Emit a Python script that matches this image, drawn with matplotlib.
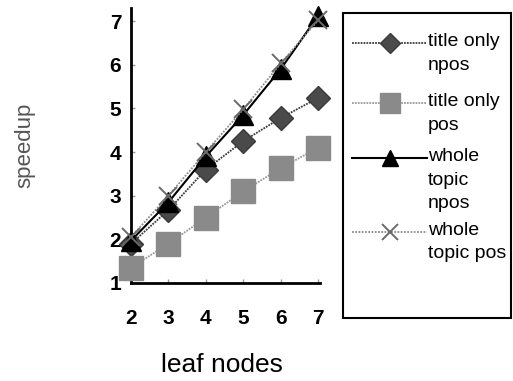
import matplotlib
matplotlib.use("Agg")
import matplotlib.pyplot as plt
from matplotlib.lines import Line2D
from matplotlib.patches import Rectangle

# data
leaf_nodes = [2, 3, 4, 5, 6, 7]
title_npos = [1.9, 2.67, 3.6, 4.25, 4.78, 5.24]
title_pos = [1.35, 1.9, 2.5, 3.1, 3.63, 4.1]
whole_npos = [1.97, 2.85, 3.9, 4.85, 5.9, 7.12]
whole_pos = [2.05, 3.0, 4.0, 4.98, 6.03, 7.02]

labels = ["title only\nnpos", "title only\npos", "whole\ntopic\nnpos", "whole\ntopic pos"]
series = [title_npos, title_pos, whole_npos, whole_pos]
styles = [
    dict(color="#3a3a3a", ls=(0, (1, 0.6)), lw=1.3, marker="D", ms=12, mfc="#4a4a4a", mec="#3a3a3a"),
    dict(color="#9a9a9a", ls=(0, (1, 0.6)), lw=1.3, marker="s", ms=17, mfc="#8a8a8a", mec="#8a8a8a"),
    dict(color="#000000", ls="-", lw=1.5, marker="^", ms=14, mfc="#000000", mec="#000000"),
    dict(color="#8c8c8c", ls=(0, (1, 0.8)), lw=1.3, marker="x", ms=13, mew=1.4, mfc="none", mec="#6a6a6a"),
]

W, H = 513, 381
fig = plt.figure(figsize=(W / 100, H / 100), dpi=100)

def fx(px):
    return px / W

def fy(py):
    return 1 - py / H

ax = fig.add_axes([fx(131), fy(283), fx(320) - fx(131), fy(8) - fy(283)])

for vals, st in zip(series, styles):
    ax.plot(leaf_nodes, vals, clip_on=False, zorder=3, **st)

ax.set_xlim(2, 7.05)
ax.set_ylim(1, 7.3)
ax.set_xticks(leaf_nodes)
ax.set_yticks(range(1, 8))
for s in ["top", "right"]:
    ax.spines[s].set_visible(False)
for s in ["left", "bottom"]:
    ax.spines[s].set_linewidth(2)
ax.tick_params(direction="in", length=3, width=1, colors="#999999",
               labelcolor="black", labelsize=15)
ax.tick_params(axis="x", pad=19)
ax.tick_params(axis="y", pad=7)
for lab in ax.get_xticklabels() + ax.get_yticklabels():
    lab.set_fontweight("bold")
    lab.set_family("Liberation Sans")

fig.text(fx(222), fy(365), "leaf nodes", ha="center", va="center",
         fontsize=19, family="Liberation Sans")
fig.text(fx(25), fy(145), "speedup", ha="center", va="center", rotation=90,
         fontsize=16, color="#555555", family="Liberation Sans")

# legend drawn by hand so the marker sits on the first text line
fig.add_artist(Rectangle((fx(343), fy(318)), fx(511) - fx(343), fy(13) - fy(318),
                         transform=fig.transFigure, fill=False, ec="black", lw=1.5))
first_rows = [43, 103, 158, 232]
for lab, st, row in zip(labels, styles, first_rows):
    fig.add_artist(Line2D([fx(352), fx(427)], [fy(row), fy(row)], transform=fig.transFigure,
                          color=st["color"], ls=st["ls"], lw=st["lw"]))
    fig.add_artist(Line2D([fx(390)], [fy(row)], transform=fig.transFigure, ls="none",
                          marker=st["marker"], ms=st["ms"] * 0.85, mfc=st["mfc"], mec=st["mec"],
                          mew=st.get("mew", 1)))
    fig.text(fx(428), fy(row - 10), lab, ha="left", va="top", fontsize=14,
             family="Liberation Sans", linespacing=1.5)

fig.savefig("out.png", dpi=100)
